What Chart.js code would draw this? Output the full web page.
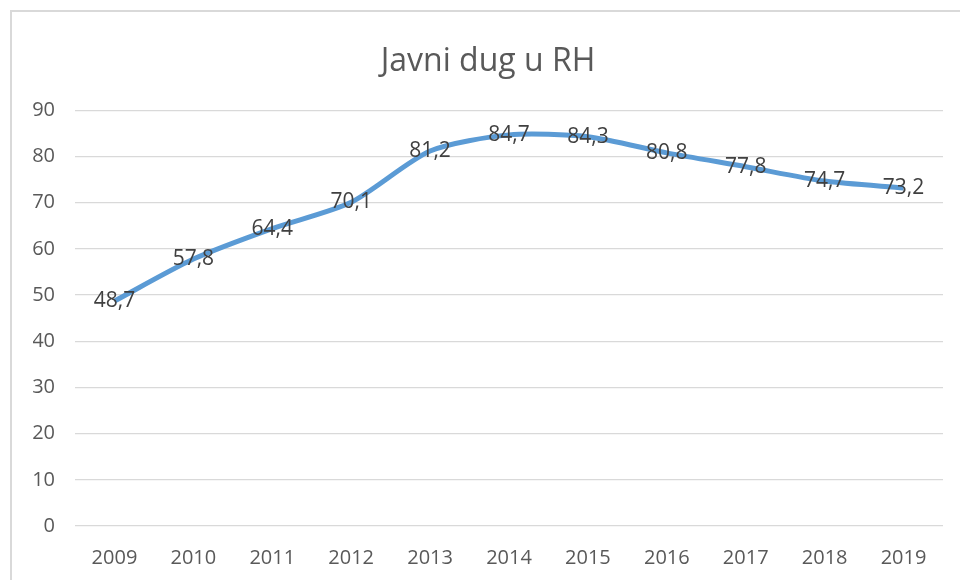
<!DOCTYPE html>
<html>
<head>
<meta charset="utf-8">
<script src="https://cdn.jsdelivr.net/npm/chart.js@4"></script>
<style>
  html, body { margin: 0; padding: 0; background: #fff; }
  #wrap { position: relative; width: 960px; height: 580px; overflow: hidden; }
  #frame { position: absolute; left: 10px; top: 10px; width: 980px; height: 600px; border: 2px solid #d9d9d9; box-sizing: border-box; }
  canvas { position: absolute; left: 0; top: 0; }
</style>
</head>
<body>
<div id="wrap">
  <div id="frame"></div>
  <canvas id="debtChart" width="960" height="580"></canvas>
</div>
<script>
const years = ['2009', '2010', '2011', '2012', '2013', '2014', '2015', '2016', '2017', '2018', '2019'];
const debt = [48.7, 57.8, 64.4, 70.1, 81.2, 84.7, 84.3, 80.8, 77.8, 74.7, 73.2];
const yTicks = [0, 10, 20, 30, 40, 50, 60, 70, 80, 90];

// Data labels centered on each point, with comma decimals
const pointLabels = {
    id: 'pointLabels',
    afterDatasetsDraw(chart) {
        const ctx = chart.ctx;
        const meta = chart.getDatasetMeta(0);
        ctx.save();
        ctx.font = '21px "Open Sans"';
        ctx.fillStyle = '#404040';
        ctx.textAlign = 'center';
        ctx.textBaseline = 'middle';
        meta.data.forEach((pt, i) => {
            ctx.fillText(debt[i].toFixed(1).replace('.', ','), pt.x, pt.y);
        });
        ctx.restore();
    }
};

new Chart(document.getElementById('debtChart'), {
    type: 'line',
    data: {
        labels: years,
        datasets: [{
            data: debt,
            borderColor: '#5b9bd5',
            borderWidth: 5,
            pointRadius: 0,
            tension: 0.25,
            fill: false
        }]
    },
    options: {
        responsive: false,
        animation: false,
        layout: { padding: { left: 33, right: 17, top: 0, bottom: 0 } },
        plugins: {
            legend: { display: false },
            tooltip: { enabled: false },
            title: {
                display: true,
                text: 'Javni dug u RH',
                color: '#595959',
                font: { family: '"Open Sans"', size: 32, weight: 'normal' },
                padding: { top: 43, bottom: 29 }
            }
        },
        scales: {
            x: {
                offset: true,
                grid: { display: false },
                border: { display: false },
                ticks: {
                    color: '#595959',
                    font: { family: '"Open Sans"', size: 20 },
                    padding: 12,
                    maxRotation: 0
                },
                afterFit(scale) { scale.height = 54; }
            },
            y: {
                min: 0,
                max: 90,
                afterBuildTicks(scale) { scale.ticks = yTicks.map(v => ({ value: v })); },
                grid: { color: '#d9d9d9', lineWidth: 1.3, drawTicks: false },
                border: { display: false },
                ticks: {
                    color: '#595959',
                    font: { family: '"Open Sans"', size: 20 },
                    padding: 20
                },
                afterFit(scale) { scale.width = 42; }
            }
        }
    },
    plugins: [pointLabels]
});
</script>
</body>
</html>
